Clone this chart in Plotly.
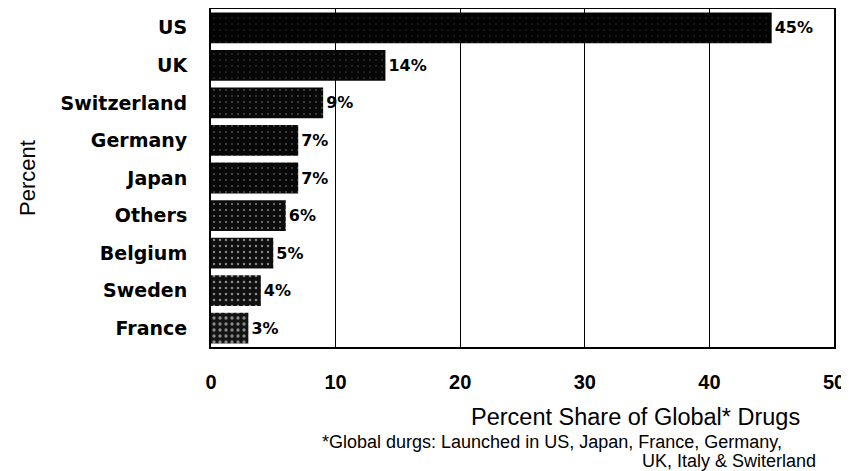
import plotly.graph_objects as go

countries = ["US", "UK", "Switzerland", "Germany", "Japan", "Others", "Belgium", "Sweden", "France"]
shares = [45, 14, 9, 7, 7, 6, 5, 4, 3]
bar_colors = ["#030303", "#060606", "#080808", "#070707", "#080808", "#0c0c0c", "#0e0e0e", "#101010", "#141414"]
speckle = [0.02, 0.03, 0.05, 0.05, 0.06, 0.09, 0.12, 0.15, 0.24]
x_ticks = [0, 10, 20, 30, 40, 50]

# page body has an 8px margin, so the figure starts at (8, 8) in the window
OFF = 8
W, H = 849 - OFF, 471 - OFF
L, R, T, B = 211 - OFF, W - (834 - OFF), 9 - OFF, H - (347 - OFF)
pw, ph = W - L - R, H - T - B

def px(x):
    return (x - OFF - L) / pw

def py(y):
    return 1 - (y - OFF - T) / ph

fig = go.Figure(go.Bar(
    x=shares,
    y=countries,
    orientation="h",
    marker=dict(
        color=bar_colors,
        line=dict(width=0),
        pattern=dict(shape=".", fgcolor="#d0d0d0", size=6, solidity=speckle, fillmode="overlay"),
    ),
    text=[f"{v}%" for v in shares],
    textposition="outside",
    textfont=dict(family="DejaVu Sans", size=16, weight="bold", color="black"),
    cliponaxis=False,
))

fig.update_layout(
    width=W, height=H,
    margin=dict(l=L, r=R, t=T, b=B, autoexpand=False),
    paper_bgcolor="white",
    plot_bgcolor="white",
    bargap=0.18,
    showlegend=False,
    xaxis=dict(
        range=[0, 50],
        automargin=False,
        tickvals=x_ticks,
        ticktext=[str(v) for v in x_ticks],
        tickfont=dict(family="Liberation Sans", size=20, weight="bold", color="black"),
        ticks="outside", ticklen=0, ticklabelstandoff=16,
        showgrid=True, gridcolor="black", gridwidth=1.2,
        showline=True, linecolor="black", linewidth=2, mirror=True,
        zeroline=False,
    ),
    yaxis=dict(
        autorange="reversed",
        automargin=False,
        tickfont=dict(family="DejaVu Sans", size=19, weight="bold", color="black"),
        ticks="outside", ticklen=0, ticklabelstandoff=18,
        showgrid=False,
        showline=True, linecolor="black", linewidth=2, mirror=True,
    ),
    annotations=[
        dict(text="Percent", textangle=-90, xref="paper", yref="paper",
             x=px(27), y=0.5, xanchor="center", yanchor="middle", showarrow=False,
             font=dict(family="Liberation Sans", size=22, color="black")),
        dict(text="Percent Share of Global* Drugs", xref="paper", yref="paper",
             x=px(635), y=py(417), xanchor="center", yanchor="middle", showarrow=False,
             font=dict(family="Liberation Sans", size=23.5, color="black")),
        dict(text="*Global durgs: Launched in US, Japan, France, Germany,", xref="paper", yref="paper",
             x=px(320), y=py(442), xanchor="left", yanchor="middle", showarrow=False,
             font=dict(family="Liberation Sans", size=18, color="black")),
        dict(text="UK, Italy &amp; Switerland", xref="paper", yref="paper",
             x=px(640), y=py(461), xanchor="left", yanchor="middle", showarrow=False,
             font=dict(family="Liberation Sans", size=18, color="black")),
    ],
)

fig.write_html("out.html")
